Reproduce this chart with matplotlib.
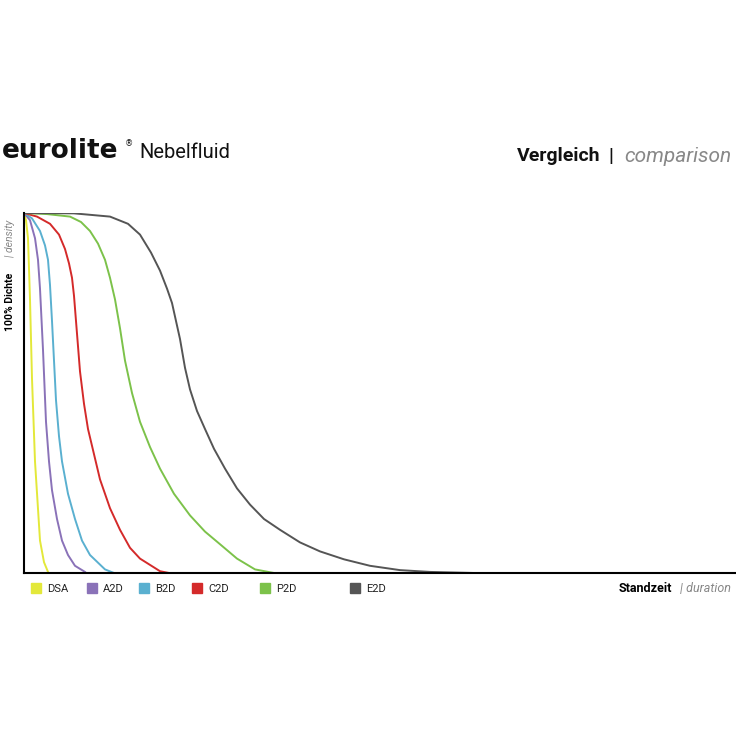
import matplotlib
matplotlib.use("Agg")
import matplotlib.pyplot as plt

names = ["DSA", "A2D", "B2D", "C2D", "P2D", "E2D"]
colors = ["#e3e83a", "#8a72b8", "#5ab0d0", "#d42a2a", "#7cc24a", "#555555"]
xs = [
    [0, 2, 4, 6, 8, 11, 16, 20, 24],
    [0, 6, 11, 14, 16, 19, 22, 25, 28, 33, 38, 44, 51, 61],
    [0, 8, 16, 21, 24, 26, 28, 30, 32, 35, 38, 44, 51, 58, 66, 81, 90],
    [0, 13, 26, 35, 41, 45, 48, 50, 52, 54, 56, 60, 64, 70, 76, 86, 96, 106, 116, 136, 145],
    [0, 23, 46, 57, 66, 74, 81, 86, 91, 96, 101, 108, 116, 126, 136, 150, 166, 181, 196, 213, 231, 250],
    [0, 50, 86, 104, 116, 127, 136, 143, 148, 152, 156, 161, 166, 173, 181, 190, 201, 213, 226, 240, 256, 276, 296, 320, 346, 376, 406, 450],
]
ys = [
    [100, 98, 93, 76, 54, 31, 9, 3, 0.3],
    [100, 98, 93, 87, 79, 62, 42, 31, 23, 15, 9, 5, 2, 0.3],
    [100, 98.5, 95, 91, 87, 80, 70, 59, 48, 38, 31, 22, 15, 9, 5, 1, 0],
    [100, 99, 97, 94, 90, 86, 82, 77, 70, 63, 56, 47, 40, 33, 26, 18, 12, 7, 4, 0.5, 0],
    [100, 99.7, 99, 97.5, 95, 91.5, 87, 82, 76, 68, 59, 50, 42, 35, 29, 22, 16, 11.5, 8, 4, 1, 0],
    [100, 99.9, 99, 97, 94, 89, 84, 79, 75, 70, 65, 57, 51, 45, 40, 34.5, 29, 23.5, 19, 15, 12, 8.5, 6, 3.8, 2, 0.8, 0.3, 0],
]

fig = plt.figure(figsize=(7.36, 7.36), dpi=100)
ax = fig.add_axes([24/736, 1-573/736, 711/736, 360/736])
for x, y, c in zip(xs, ys, colors):
    ax.plot(x, y, color=c, lw=1.4, solid_joinstyle="round")
ax.set_xlim(0, 711)
ax.set_ylim(0, 100)
for s in ["top", "right"]:
    ax.spines[s].set_visible(False)
ax.spines["left"].set_linewidth(1.5)
ax.spines["bottom"].set_linewidth(1.5)
ax.set_xticks([]); ax.set_yticks([])

fig.text(2/736, 1-151/736, "eurolite", fontsize=19, fontweight="bold", va="center", color="#111")
fig.text(125/736, 1-144/736, "®", fontsize=6, va="center", color="#111")
fig.text(139/736, 1-153/736, "Nebelfluid", fontsize=14.5, va="center", color="#111", family="Roboto")
fig.text(600/736, 1-156/736, "Vergleich", fontsize=14, fontweight="bold", va="center", ha="right", color="#111", family="Roboto")
fig.text(611/736, 1-156/736, "|", fontsize=14, fontweight="bold", va="center", ha="center", color="#111", family="Roboto")
fig.text(731/736, 1-156/736, "comparison", fontsize=15, style="italic", va="center", ha="right", color="#888", family="Roboto")

fig.text(10/736, 1-302/736, "100% Dichte", rotation=90, fontsize=7.5, fontweight="bold", va="center", ha="center", family="Roboto")
fig.text(10/736, 1-238/736, "| density", rotation=90, fontsize=7.5, style="italic", color="#888", va="center", ha="center", family="Roboto")

fig.text(672/736, 1-589/736, "Standzeit", fontsize=9, fontweight="bold", va="center", ha="right", family="Roboto")
fig.text(731/736, 1-589/736, "| duration", fontsize=9, style="italic", color="#888", va="center", ha="right", family="Roboto")

lx = [36, 92, 144, 197, 265, 355]
for x, n, c in zip(lx, names, colors):
    fig.patches.append(plt.Rectangle((x/736-5/736, 1-593/736), 10/736, 10/736, color=c, transform=fig.transFigure))
    fig.text((x+11)/736, 1-589/736, n, fontsize=8, va="center", family="Roboto", color="#222")

fig.savefig("out.png", dpi=100, facecolor="white")
